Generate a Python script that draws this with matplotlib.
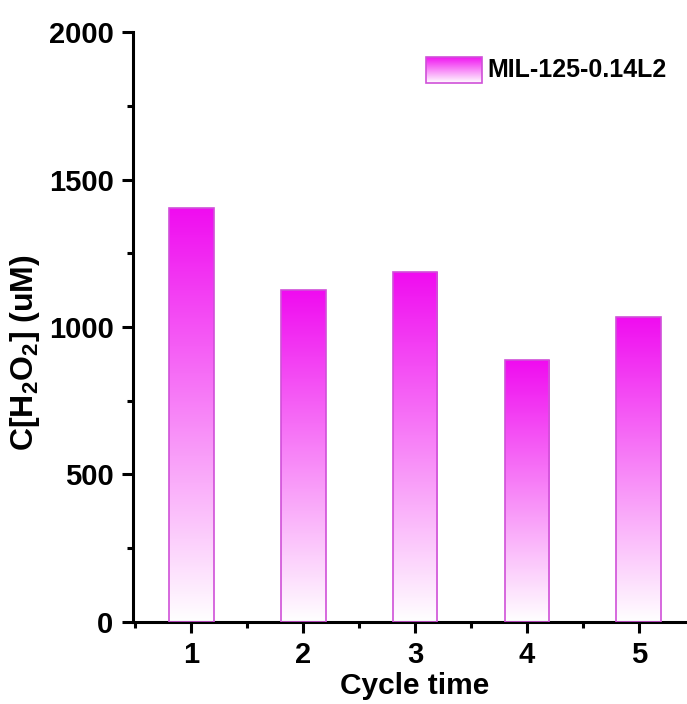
import matplotlib
matplotlib.use('Agg')
import matplotlib.pyplot as plt
import numpy as np
from matplotlib.patches import Rectangle
from matplotlib.colors import LinearSegmentedColormap
from matplotlib.ticker import MultipleLocator

plt.rcParams['font.family'] = ['Liberation Sans', 'DejaVu Sans']
plt.rcParams['font.weight'] = 'bold'
plt.rcParams['mathtext.fontset'] = 'custom'
plt.rcParams['mathtext.rm'] = 'Liberation Sans:bold'
plt.rcParams['mathtext.bf'] = 'Liberation Sans:bold'

cycles = [1, 2, 3, 4, 5]
conc = [1405, 1125, 1185, 888, 1035]
label = 'MIL-125-0.14L2'

cmap = LinearSegmentedColormap.from_list('pinkfade', ['#ffffff', '#f00cf0'])
grad = np.linspace(0, 1, 256).reshape(-1, 1)

fig = plt.figure(figsize=(6.87, 7.04), dpi=100)
ax = fig.add_axes([0.1936, 0.1165, 0.8064, 0.838])

width = 0.4
for x, h in zip(cycles, conc):
    rect = Rectangle((x - width / 2, 0), width, h, facecolor='none',
                     edgecolor='#d050d8', linewidth=1.2, zorder=3)
    ax.add_patch(rect)
    im = ax.imshow(grad, cmap=cmap, aspect='auto', origin='lower',
                   extent=[x - width / 2, x + width / 2, 0, h], zorder=2)
    im.set_clip_path(rect)

ax.set_xlim(0.48, 5.43)
ax.set_ylim(0, 2000)

# legend drawn by hand so the swatch can carry the gradient
lrect = Rectangle((0.529, 0.913), 0.101, 0.045, transform=ax.transAxes,
                  facecolor='none', edgecolor='#d050d8', linewidth=1.2, zorder=5)
ax.add_patch(lrect)
lim = ax.imshow(grad, cmap=cmap, aspect='auto', origin='lower',
                extent=[0.529, 0.630, 0.913, 0.958], transform=ax.transAxes, zorder=4)
lim.set_clip_path(lrect)
ax.text(0.639, 0.935, label, transform=ax.transAxes, fontsize=18,
        fontweight='bold', va='center', ha='left')

ax.set_xticks(cycles)
ax.xaxis.set_minor_locator(MultipleLocator(0.5))
ax.set_yticks([0, 500, 1000, 1500, 2000])
ax.yaxis.set_minor_locator(MultipleLocator(250))

for s in ['top', 'right']:
    ax.spines[s].set_visible(False)
for s in ['left', 'bottom']:
    ax.spines[s].set_linewidth(2.2)

ax.tick_params(which='major', length=8, width=2.2, labelsize=21, pad=6)
ax.tick_params(which='minor', length=4.5, width=2.2)
for lab in ax.get_xticklabels() + ax.get_yticklabels():
    lab.set_fontweight('bold')

ax.set_xlabel('Cycle time', fontsize=21.5, fontweight='bold')
ax.xaxis.set_label_coords(0.509, -0.084)
ax.set_ylabel(r'C[H$_\mathbf{2}$O$_\mathbf{2}$] (uM)', fontsize=23,
              fontweight='bold')
ax.yaxis.set_label_coords(-0.164, 0.456)

fig.savefig('out.png', dpi=100)
